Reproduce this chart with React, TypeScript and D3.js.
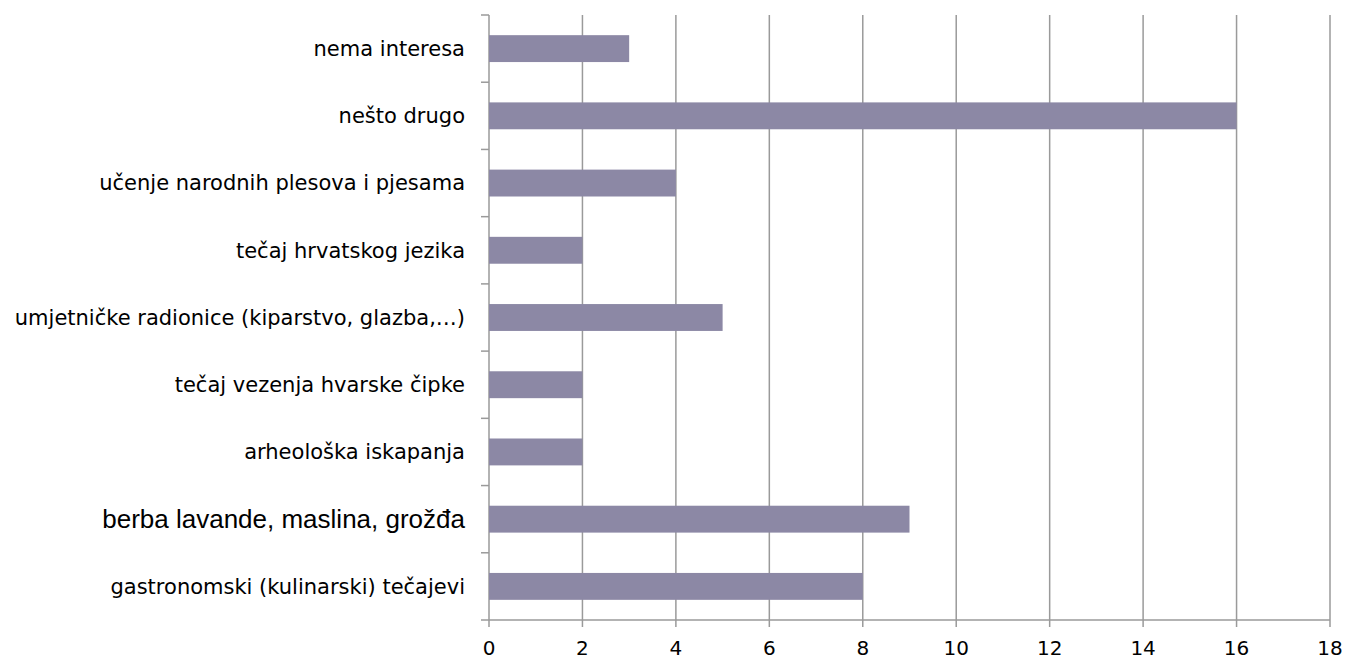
import React from "react";
import * as d3 from "d3";

const categories = [
  "nema interesa",
  "nešto drugo",
  "učenje narodnih plesova i pjesama",
  "tečaj hrvatskog jezika",
  "umjetničke radionice (kiparstvo, glazba,…)",
  "tečaj vezenja hvarske čipke",
  "arheološka iskapanja",
  "berba lavande, maslina, grožđa",
  "gastronomski (kulinarski) tečajevi",
];
const values = [3, 16, 4, 2, 5, 2, 2, 9, 8];
const xTicks = [0, 2, 4, 6, 8, 10, 12, 14, 16, 18];

const W = 1347;
const H = 660;
const left = 489;
const right = 1330;
const top = 15;
const bottom = 620;
const gridColor = "#9a9a9a";
const barColor = "#8c88a5";
const labelFont = "'DejaVu Sans', sans-serif";

export default function App() {
  const x = d3.scaleLinear().domain([0, 18]).range([left, right]);
  const y = d3.scaleBand<string>().domain(categories).range([top, bottom]).paddingInner(0.6).paddingOuter(0.3);
  const step = (bottom - top) / categories.length;
  const boundaries = d3.range(categories.length + 1).map((i) => top + i * step);

  return (
    <svg width={W} height={H} style={{ position: "absolute", left: 0, top: 0 }}>
      <rect x={0} y={0} width={W} height={H} fill="#fff" />
      {xTicks.map((t) => (
        <line key={"g" + t} x1={x(t)} x2={x(t)} y1={top} y2={bottom + 7} stroke={gridColor} strokeWidth={1.5} />
      ))}
      <line x1={left} x2={right} y1={bottom} y2={bottom} stroke={gridColor} strokeWidth={1.5} />
      {boundaries.map((b, i) => (
        <line key={"yt" + i} x1={left - 8} x2={left} y1={b} y2={b} stroke={gridColor} strokeWidth={1.5} />
      ))}
      {categories.map((c, i) => (
        <rect key={c} x={x(0)} y={y(c)} width={x(values[i]) - x(0)} height={y.bandwidth()} fill={barColor} />
      ))}
      {categories.map((c) => {
        const special = c.startsWith("berba");
        return (
          <text
            key={"l" + c}
            x={465}
            y={(y(c) as number) + y.bandwidth() / 2}
            dy="0.35em"
            textAnchor="end"
            fontFamily={special ? "'Liberation Sans', sans-serif" : labelFont}
            fontSize={special ? 26 : 21}
            fill="#000"
          >
            {c}
          </text>
        );
      })}
      {xTicks.map((t) => (
        <text key={"xl" + t} x={x(t)} y={655} textAnchor="middle" fontFamily={labelFont} fontSize={20} fill="#000">
          {t}
        </text>
      ))}
    </svg>
  );
}
